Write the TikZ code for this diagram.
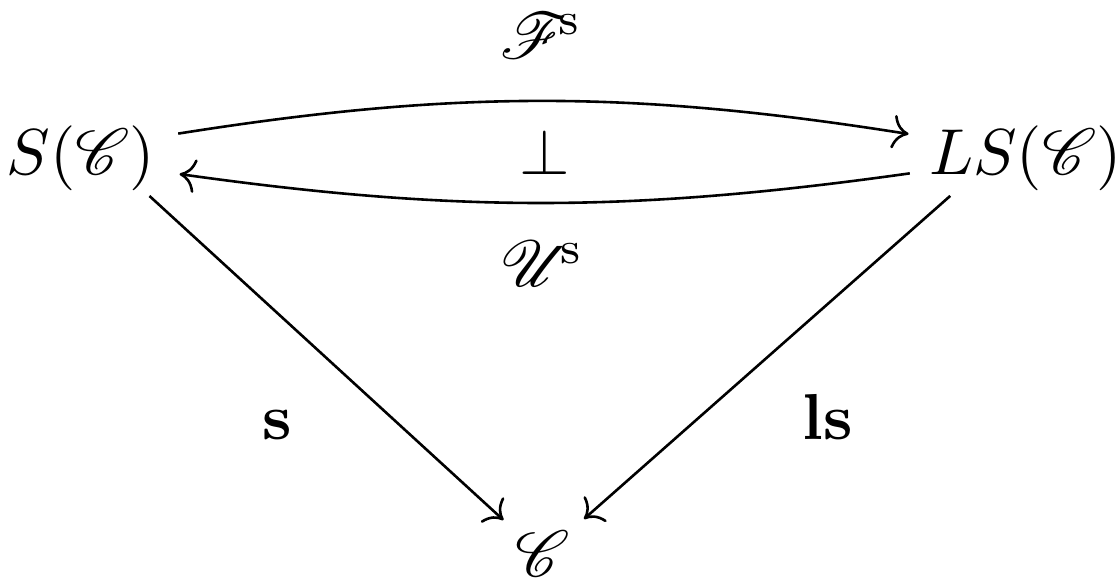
\documentclass[tikz,border=0pt]{standalone}
\usepackage{amsmath,amssymb}
\usepackage{calrsfs}
\usepackage{tikz}
\usetikzlibrary{arrows.meta}

\begin{document}
\begin{tikzpicture}[>={Computer Modern Rightarrow},ob/.style={inner sep=0pt,anchor=base},lab/.style={inner sep=0pt,anchor=base}]
\useasboundingbox (0,0) rectangle (6.061,3.182);
\node[ob] (SC) at (0.438,2.240) {$S(\mathcal{C})$};
\node[ob] (LSC) at (5.549,2.240) {$LS(\mathcal{C})$};
\node[ob] (C) at (2.938,0.060) {$\mathcal{C}$};
\node[lab] (Fs) at (2.928,2.868) {$\mathcal{F}^{\!\mathrm{s}}$};
\node[lab] (adj) at (2.949,2.240) {$\perp$};
\node[lab] (Us) at (2.933,1.629) {$\mathcal{U}^{\!\mathrm{s}}$};
\node[lab] (s) at (1.499,0.801) {$\mathbf{s}$};
\node[lab] (ls) at (4.481,0.801) {$\mathbf{ls}$};
\draw[->,shorten <=3.4pt,shorten >=3pt] ([yshift=3.2pt]SC.east) to[bend left=9] ([yshift=3.2pt]LSC.west);
\draw[->,shorten <=2.8pt,shorten >=3.6pt] ([yshift=-2pt]LSC.west) to[bend left=8] ([yshift=-2pt]SC.east);
\draw[->,shorten <=1pt,shorten >=2.3pt] ([xshift=-1.8pt]SC.south east) -- (C.north west);
\draw[->,shorten <=1pt,shorten >=2.6pt] ([xshift=4.2pt]LSC.south west) -- (C.north east);
\end{tikzpicture}
\end{document}
